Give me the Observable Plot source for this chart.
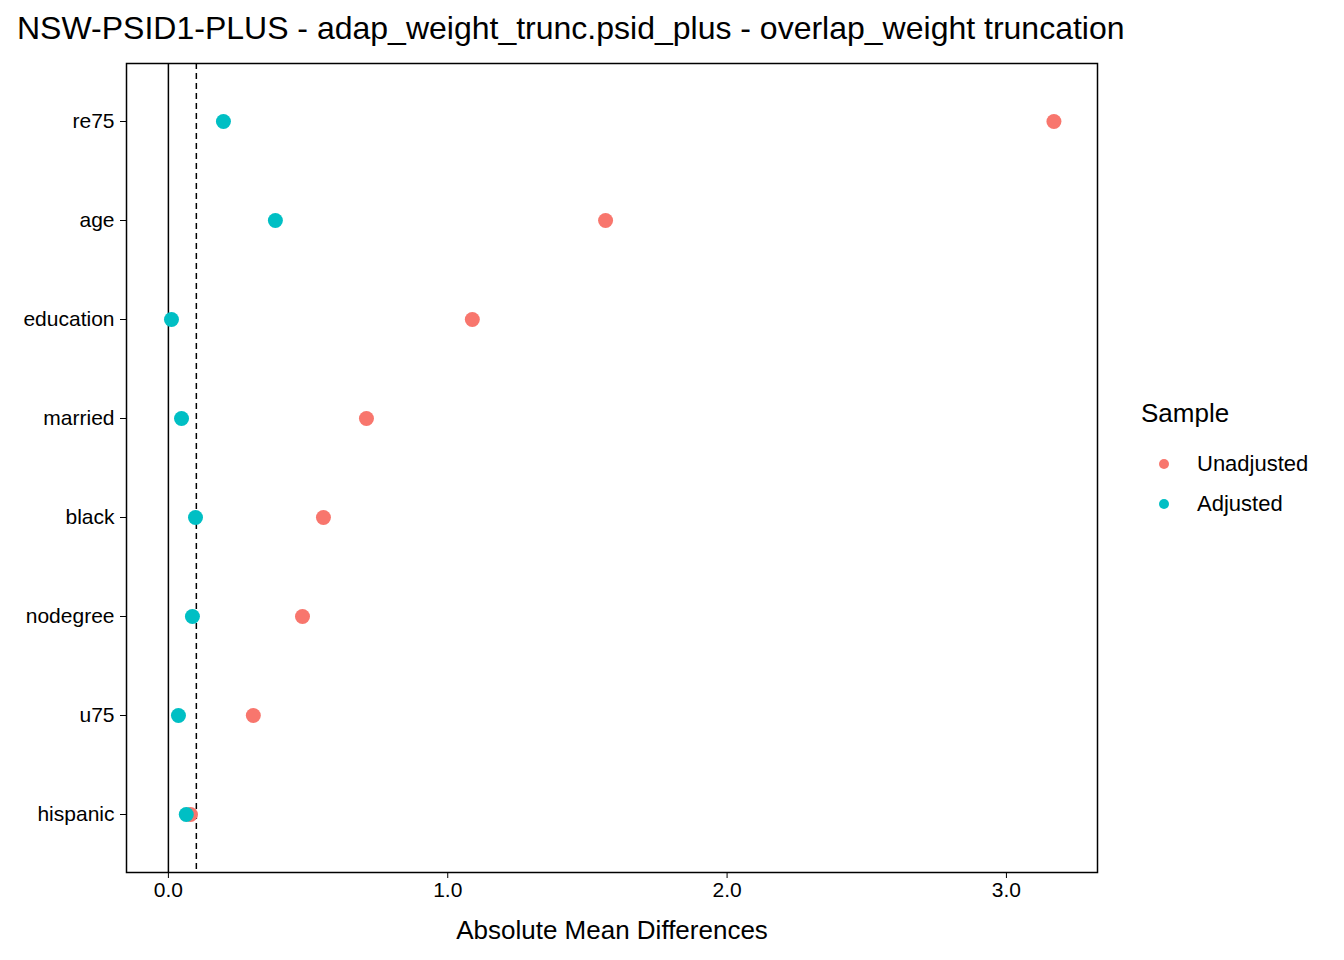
<!DOCTYPE html>
<html>
<head>
<meta charset="utf-8">
<script src="https://cdn.jsdelivr.net/npm/d3@7"></script>
<script src="https://cdn.jsdelivr.net/npm/@observablehq/plot@0.6"></script>
<style>
  body { margin: 0; background: #fff; font-family: Arial, "Liberation Sans", sans-serif; }
  #wrap { position: relative; width: 1344px; height: 960px; }
  #title { position: absolute; left: 17px; top: 10px; font-size: 32px; color: #000; }
  #chart { position: absolute; left: 0; top: 50px; }
  #legend { position: absolute; left: 1141px; top: 398px; font-size: 26px; }
  .item { font-size: 22px; margin-top: 14px; display: flex; align-items: center; }
  .dot { width: 10px; height: 10px; border-radius: 50%; margin: 0 28px 0 18px; }
</style>
</head>
<body>
<div id="wrap">
  <div id="title">NSW-PSID1-PLUS - adap_weight_trunc.psid_plus - overlap_weight truncation</div>
  <div id="chart"></div>
  <div id="legend">Sample
    <div class="item" style="margin-top:22px"><div class="dot" style="background:#F8766D"></div>Unadjusted</div>
    <div class="item"><div class="dot" style="background:#00BFC4"></div>Adjusted</div>
  </div>
</div>
<script>
// covariates, top to bottom
const covariates = ["re75", "age", "education", "married", "black", "nodegree", "u75", "hispanic"];
const unadjusted = [3.17, 1.565, 1.088, 0.709, 0.555, 0.48, 0.304, 0.079];
const adjusted = [0.197, 0.383, 0.011, 0.047, 0.097, 0.086, 0.036, 0.064];
const threshold = 0.1;

const rows = [];
covariates.forEach((c, i) => {
  rows.push({ covariate: c, value: unadjusted[i], sample: "Unadjusted" });
});
covariates.forEach((c, i) => {
  rows.push({ covariate: c, value: adjusted[i], sample: "Adjusted" });
});

const chart = Plot.plot({
  width: 1344,
  height: 910,
  marginTop: 13,
  marginLeft: 126,
  marginRight: 247,
  marginBottom: 88,
  style: { fontSize: "21px", fontFamily: "Arial, 'Liberation Sans', sans-serif", color: "#000" },
  x: {
    domain: [-0.15, 3.326],
    ticks: [0, 1, 2, 3],
    tickSize: 6,
    tickPadding: 4,
    label: "Absolute Mean Differences",
    labelAnchor: "center",
    labelArrow: "none",
    labelOffset: 66
  },
  y: { domain: covariates, padding: 0.58, tickSize: 6, tickPadding: 6, label: null },
  color: { domain: ["Unadjusted", "Adjusted"], range: ["#F8766D", "#00BFC4"] },
  marks: [
    Plot.frame({ stroke: "#000", strokeWidth: 1.5 }),
    Plot.ruleX([0], { stroke: "#000", strokeWidth: 1.5 }),
    Plot.ruleX([threshold], { stroke: "#000", strokeWidth: 1.5, strokeDasharray: "6,4" }),
    Plot.dot(rows, { x: "value", y: "covariate", fill: "sample", r: 7.5 })
  ]
});
d3.select(chart).selectAll("[aria-label='x-axis label'] text").style("font-size", "26px");
document.getElementById("chart").append(chart);
</script>
</body>
</html>
